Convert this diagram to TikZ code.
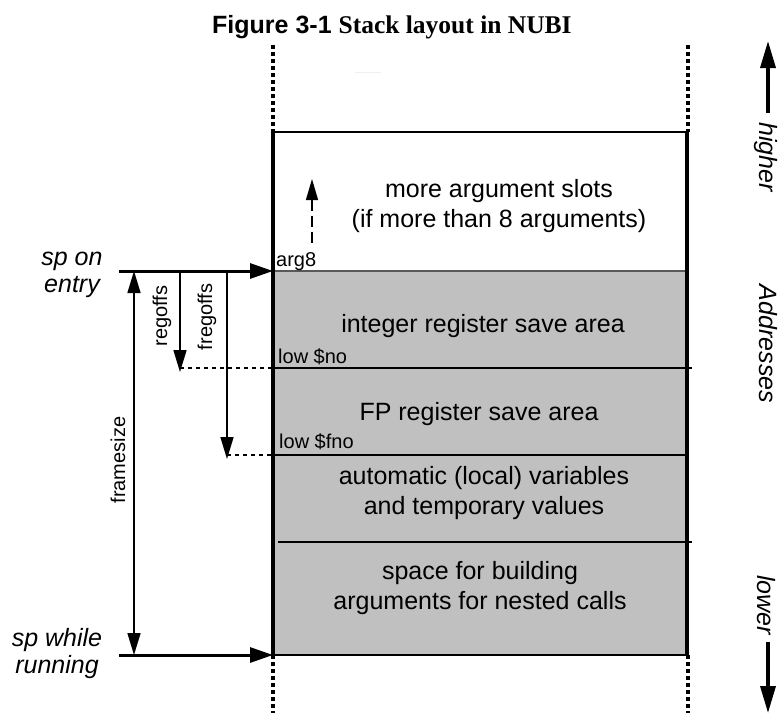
\documentclass[tikz,border=0pt]{standalone}
\usepackage{fontspec}
\setmainfont{Liberation Sans}
\newfontfamily\titleserif{Liberation Serif}
\usetikzlibrary{arrows.meta}
\definecolor{areagray}{RGB}{192,192,192}
\tikzset{
  bigtxt/.style={font=\fontsize{25}{30}\selectfont, inner sep=0pt, align=center},
  italtxt/.style={font=\fontsize{25}{27}\selectfont\itshape, inner sep=0pt, align=center},
  smalltxt/.style={font=\fontsize{20}{24}\selectfont, inner sep=0pt},
  dotline/.style={line width=4pt, dash pattern=on 4pt off 3pt},
  sparrow/.style={line width=3pt, -{Triangle[length=23pt,width=15pt]}},
  dimarrow/.style={line width=1.6pt, -{Triangle[length=22pt,width=13pt]}},
  guide/.style={line width=1.5pt, dash pattern=on 4pt off 4pt},
  sepline/.style={line width=1.6pt},
  bigarrow/.style={line width=3.5pt, -{Triangle[length=27pt,width=15pt]}}
}
\begin{document}
\begin{tikzpicture}[x=1pt,y=-1pt]
\useasboundingbox (0,0) rectangle (779,715);
% title
\node[inner sep=0pt, anchor=base west] (title) at (212,33) {\fontsize{25}{30}\selectfont\bfseries Figure 3-1 {\titleserif\fontsize{25.5}{30}\selectfont Stack layout in NUBI}};
% faint mark
\draw[gray!12, line width=1pt] (355,72) -- (381,72);
% key coordinates
\coordinate (TL) at (273,132);
\coordinate (TR) at (687,132);
\coordinate (BL) at (273,655);
\coordinate (BR) at (687,655);
\coordinate (A8L) at (273,271);
\coordinate (A8R) at (687,271);
\coordinate (NOL) at (273,368);
\coordinate (NOR) at (692,368);
\coordinate (FNOL) at (273,455);
\coordinate (FNOR) at (687,455);
\coordinate (LVL) at (278,542);
\coordinate (LVR) at (692,542);
% gray area
\fill[areagray] (A8L) rectangle (BR);
% dotted extensions
\coordinate (DLT) at (273,45);
\coordinate (DLB) at (273,713);
\coordinate (DRT) at (688,45);
\coordinate (DRB) at (688,713);
\draw[dotline] (DLT) -- (TL);
\draw[dotline] (BL) -- (DLB);
\draw[dotline] (DRT) -- (688,132);
\draw[dotline] (688,655) -- (DRB);
% separators
\draw[line width=2pt] (TL) -- (TR);
\draw[line width=1.5pt, black!65] (A8L) -- (A8R);
\draw[sepline] (NOL) -- (NOR);
\draw[sepline] (FNOL) -- (FNOR);
\draw[sepline] (LVL) -- (LVR);
\draw[sepline] (BL) -- (BR);
% box edges
\draw[line width=4pt] (TL) -- (BL);
\draw[line width=3.5pt] (TR) -- (BR);
% area texts
\node[bigtxt] (more) at (499,206) {more argument slots\\(if more than 8 arguments)};
\node[bigtxt] (intreg) at (483,326) {integer register save area};
\node[bigtxt] (fpreg) at (479,414) {FP register save area};
\node[bigtxt] (autov) at (484,493) {automatic (local) variables\\and temporary values};
\node[bigtxt] (spacearg) at (480,588) {space for building\\arguments for nested calls};
% small labels
\node[smalltxt, anchor=base west] (arg8) at (276,266) {arg8};
\node[smalltxt, anchor=base west] (lowno) at (278,363) {low \$no};
\node[smalltxt, anchor=base west] (lowfno) at (279,448) {low \$fno};
% arg8 dashed up arrow
\coordinate (upS) at (312,243);
\coordinate (upE) at (312,179);
\draw[line width=1.3pt, dash pattern=on 11pt off 5pt, -{Triangle[length=21pt,width=12pt]}] (upS) -- (upE);
% left side
\node[italtxt] (spentry) at (72,275) {sp on\\entry};
\node[italtxt] (sprun) at (57,654) {sp while\\running};
\coordinate (eS) at (119,271);
\coordinate (rS) at (119,655);
\draw[sparrow] (eS) -- (A8L);
\draw[sparrow] (rS) -- (BL);
% framesize
\coordinate (fsT) at (134,271);
\coordinate (fsB) at (134,655);
\draw[line width=1.6pt, {Triangle[length=22pt,width=13pt]}-{Triangle[length=22pt,width=13pt]}] (fsT) -- (fsB);
\node[smalltxt, rotate=90] (fslab) at (118,460) {framesize};
% regoffs
\coordinate (rgT) at (180,271);
\coordinate (rgB) at (180,372);
\coordinate (rgG) at (180,368);
\draw[dimarrow] (rgT) -- (rgB);
\draw[guide] (rgG) -- (NOL);
\node[smalltxt, rotate=90] (rglab) at (162,316) {regoffs};
% fregoffs
\coordinate (frT) at (227,271);
\coordinate (frB) at (227,459);
\coordinate (frG) at (227,455);
\draw[dimarrow] (frT) -- (frB);
\draw[guide] (frG) -- (FNOL);
\node[smalltxt, rotate=90] (frlab) at (207,317) {fregoffs};
% right side addresses
\coordinate (hiS) at (768,113);
\coordinate (hiE) at (768,41);
\draw[bigarrow] (hiS) -- (hiE);
\node[italtxt, rotate=-90] (higher) at (766,157) {higher};
\node[italtxt, rotate=-90] (addr) at (768,344) {Addresses};
\node[italtxt, rotate=-90] (lower) at (766,605) {lower};
\coordinate (loS) at (768,642);
\coordinate (loE) at (768,713);
\draw[bigarrow] (loS) -- (loE);
\end{tikzpicture}
\end{document}
